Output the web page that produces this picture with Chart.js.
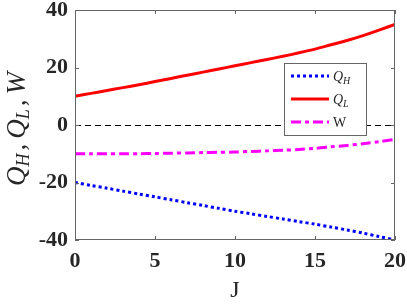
<!DOCTYPE html>
<html>
<head>
<meta charset="utf-8">
<script src="https://cdn.jsdelivr.net/npm/chart.js@4.4.1/dist/chart.umd.min.js"></script>
<style>
  html, body { margin: 0; padding: 0; background: #fff; }
  #wrap { width: 407px; height: 305px; }
</style>
</head>
<body>
<div id="wrap"><canvas id="c" width="407" height="305"></canvas></div>
<script>
'use strict';

/* ---------- data ---------- */
const J  = [0, 1, 2, 3, 4, 5, 6, 7, 8, 9, 10, 11, 12, 13, 14, 15, 16, 17, 18, 19, 20];
const QH = [-20, -21, -22, -23, -24, -25, -26, -27, -28, -29, -30, -30.9, -31.8, -32.7, -33.6, -34.5, -35.5, -36.5, -37.6, -38.8, -40];
const QL = [10, 11, 12, 13, 14, 15.1, 16.2, 17.3, 18.4, 19.5, 20.6, 21.7, 22.8, 23.9, 25.1, 26.4, 27.9, 29.4, 31.1, 33, 35];
const W  = [-10, -10, -10, -10, -10, -9.9, -9.8, -9.7, -9.6, -9.5, -9.4, -9.2, -9.0, -8.8, -8.5, -8.1, -7.6, -7.1, -6.5, -5.8, -5];
const xTicks = [0, 5, 10, 15, 20];
const yTicks = [-40, -20, 0, 20, 40];

const SERIF = "'Liberation Serif', 'Times New Roman', Times, serif";
const AXIS = '#262626';

const pts = ys => J.map((x, i) => ({ x, y: ys[i] }));

/* ---------- helpers ---------- */
// base glyph + italic subscript, returns advance width
function drawSub(ctx, base, sub, x, y, size, italicBase, subSize, subDrop) {
  ctx.font = `${italicBase ? 'italic ' : ''}${size}px ${SERIF}`;
  ctx.fillText(base, x, y);
  let w = ctx.measureText(base).width;
  if (sub) {
    ctx.font = `italic ${subSize}px ${SERIF}`;
    ctx.fillText(sub, x + w, y + subDrop);
    w += ctx.measureText(sub).width;
  }
  return w;
}

/* ---------- box, inward ticks, zero line ---------- */
const frame = {
  id: 'frame',
  beforeDatasetsDraw(chart) {
    const { ctx, chartArea: a, scales: { y } } = chart;
    ctx.save();
    ctx.strokeStyle = '#000';
    ctx.lineWidth = 1;
    ctx.setLineDash([6, 4]);
    const y0 = Math.round(y.getPixelForValue(0)) + 0.5;
    ctx.beginPath();
    ctx.moveTo(a.left, y0);
    ctx.lineTo(a.right, y0);
    ctx.stroke();
    ctx.restore();
  },
  afterDatasetsDraw(chart) {
    const { ctx, chartArea: a, scales: { x, y } } = chart;
    ctx.save();
    ctx.strokeStyle = '#666';
    ctx.lineWidth = 1;
    ctx.strokeRect(a.left + 0.5, a.top + 0.5, a.right - a.left - 1, a.bottom - a.top - 1);
    ctx.beginPath();
    xTicks.forEach(v => {
      const px = Math.round(x.getPixelForValue(v)) + 0.5;
      ctx.moveTo(px, a.bottom); ctx.lineTo(px, a.bottom - 4);
      ctx.moveTo(px, a.top);    ctx.lineTo(px, a.top + 4);
    });
    yTicks.forEach(v => {
      const py = Math.round(y.getPixelForValue(v)) + 0.5;
      ctx.moveTo(a.left, py);  ctx.lineTo(a.left + 4, py);
      ctx.moveTo(a.right, py); ctx.lineTo(a.right - 4, py);
    });
    ctx.stroke();
    ctx.restore();
  }
};

/* ---------- legend with subscripts ---------- */
const legendBox = {
  id: 'legendBox',
  afterDraw(chart) {
    const { ctx } = chart;
    const bx = 284, by = 63, bw = 82, bh = 72;
    ctx.save();
    ctx.fillStyle = '#fff';
    ctx.fillRect(bx, by, bw, bh);
    ctx.strokeStyle = '#666';
    ctx.lineWidth = 1;
    ctx.strokeRect(bx + 0.5, by + 0.5, bw, bh);

    const rows = [
      { ds: 0, base: 'Q', sub: 'H', italic: true, y: 76 },
      { ds: 1, base: 'Q', sub: 'L', italic: true, y: 99 },
      { ds: 2, base: 'W', sub: '',  italic: false, y: 122 }
    ];
    rows.forEach(r => {
      const d = chart.data.datasets[r.ds];
      ctx.strokeStyle = d.borderColor;
      ctx.lineWidth = d.borderWidth;
      ctx.setLineDash(d.borderDash || []);
      ctx.beginPath();
      ctx.moveTo(291, r.y);
      ctx.lineTo(329, r.y);
      ctx.stroke();
      ctx.setLineDash([]);
      ctx.fillStyle = AXIS;
      ctx.textBaseline = 'alphabetic';
      drawSub(ctx, r.base, r.sub, 333, r.y + 5, 14, r.italic, 10, 3);
    });
    ctx.restore();
  }
};

/* ---------- y axis title: Q_H , Q_L , W ---------- */
const yTitle = {
  id: 'yTitle',
  afterDraw(chart) {
    const { ctx } = chart;
    const size = 27, sub = 18, drop = 4;
    const parts = [['Q', 'H'], [',', ''], ['Q', 'L'], [',', ''], ['W', '']];
    const gapBefore = [0, 3, 5, 3, 5];
    ctx.save();
    let total = 0;
    parts.forEach(([b, s], i) => {
      ctx.font = `italic ${size}px ${SERIF}`;
      total += gapBefore[i] + ctx.measureText(b).width;
      if (s) { ctx.font = `italic ${sub}px ${SERIF}`; total += ctx.measureText(s).width; }
    });
    ctx.translate(25, 129);
    ctx.rotate(-Math.PI / 2);
    ctx.fillStyle = AXIS;
    ctx.textBaseline = 'alphabetic';
    let x = -total / 2;
    parts.forEach(([b, s], i) => {
      x += gapBefore[i];
      x += drawSub(ctx, b, s, x, 0, size, true, sub, drop);
    });
    ctx.restore();
  }
};

function build() {
  new Chart(document.getElementById('c'), {
    type: 'line',
    data: {
      datasets: [
        { label: 'Q_H', data: pts(QH), borderColor: '#0000ff', borderWidth: 3, borderDash: [3, 3], pointRadius: 0, tension: 0.3 },
        { label: 'Q_L', data: pts(QL), borderColor: '#ff0000', borderWidth: 3, pointRadius: 0, tension: 0.3 },
        { label: 'W',   data: pts(W),  borderColor: '#ff00ff', borderWidth: 3, borderDash: [10, 4, 4, 4], pointRadius: 0, tension: 0.3 }
      ]
    },
    options: {
      responsive: false,
      animation: false,
      devicePixelRatio: 1,
      layout: { padding: { top: 10, right: 12, left: 0, bottom: 0 } },
      plugins: { legend: { display: false }, tooltip: { enabled: false } },
      scales: {
        x: {
          type: 'linear', min: 0, max: 20,
          afterFit: s => { s.height = 65; s.paddingLeft = 0; s.paddingRight = 0; },
          afterBuildTicks: s => { s.ticks = xTicks.map(v => ({ value: v })); },
          grid: { display: false, drawTicks: false },
          border: { display: false },
          ticks: { color: AXIS, padding: 8, maxRotation: 0, font: { family: SERIF, size: 22, weight: 'bold' } },
          title: { display: true, text: 'J', color: AXIS, padding: { top: 0, bottom: 0 }, font: { family: SERIF, size: 24 } }
        },
        y: {
          min: -40, max: 40,
          afterFit: s => { s.width = 75; s.paddingTop = 0; s.paddingBottom = 0; },
          afterBuildTicks: s => { s.ticks = yTicks.map(v => ({ value: v })); },
          grid: { display: false, drawTicks: false },
          border: { display: false },
          ticks: { color: AXIS, padding: 7, font: { family: SERIF, size: 22, weight: 'bold' } }
        }
      }
    },
    plugins: [frame, legendBox, yTitle]
  });
}

if (document.fonts && document.fonts.load) {
  Promise.all([
    document.fonts.load("bold 22px 'Liberation Serif'"),
    document.fonts.load("italic 27px 'Liberation Serif'"),
    document.fonts.load("24px 'Liberation Serif'")
  ]).then(build, build);
} else {
  build();
}
</script>
</body>
</html>
